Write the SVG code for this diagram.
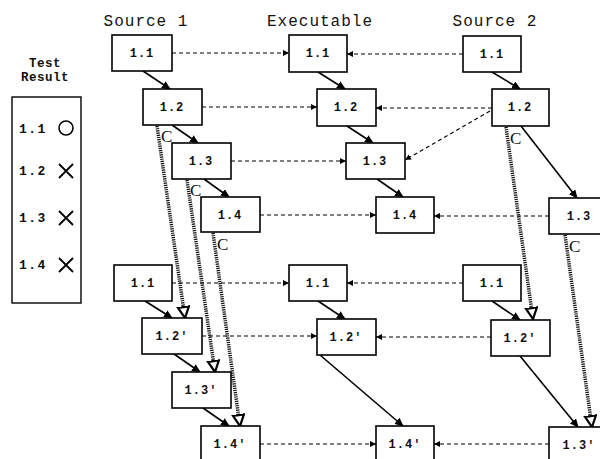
<svg xmlns="http://www.w3.org/2000/svg" width="600" height="459" viewBox="0 0 600 459">
<style>
.box rect{fill:#fff;stroke:#000;stroke-width:1.6}
.lbl{font-family:"Liberation Mono",monospace;font-weight:bold;font-size:12px;letter-spacing:1px;text-anchor:middle;fill:#111}
.hdr{font-family:"Liberation Mono",monospace;font-size:16px;letter-spacing:1px;text-anchor:middle;fill:#111}
.leg{font-family:"Liberation Mono",monospace;font-weight:bold;font-size:13px;letter-spacing:1.5px;fill:#111}
.tr{font-family:"Liberation Mono",monospace;font-weight:bold;font-size:12.5px;letter-spacing:0.5px;text-anchor:middle;fill:#111}
.solid{stroke:#000;stroke-width:1.6;fill:none;marker-end:url(#ah)}
.dash{stroke:#000;stroke-width:1.1;stroke-dasharray:4 3;fill:none;marker-end:url(#ad)}
.dot{stroke:#111;stroke-width:3.5;stroke-dasharray:1.2 1;fill:none;marker-end:url(#ao)}
.c{font-family:"Liberation Serif",serif;font-size:17px;fill:#111}
</style>
<defs>
<marker id="ah" markerWidth="9" markerHeight="8" refX="8" refY="4" orient="auto" markerUnits="userSpaceOnUse"><path d="M0,0 L9,4 L0,8 Z" fill="#000"/></marker>
<marker id="ad" markerWidth="6" markerHeight="6" refX="6" refY="3" orient="auto" markerUnits="userSpaceOnUse"><path d="M0,0 L6,3 L0,6 Z" fill="#000"/></marker>
<marker id="ao" markerWidth="14" markerHeight="14" refX="12" refY="7" orient="auto" markerUnits="userSpaceOnUse"><path d="M1,1.5 L12,7 L1,12.5 Z" fill="#fff" stroke="#000" stroke-width="2.2"/></marker>
</defs>

<text class="hdr" x="146" y="26">Source 1</text>
<text class="hdr" x="320" y="26">Executable</text>
<text class="hdr" x="495" y="26">Source 2</text>

<g id="legend">
<text class="tr" x="45" y="67">Test</text>
<text class="tr" x="45" y="81">Result</text>
<rect x="12" y="97" width="69" height="206" fill="#fff" stroke="#000" stroke-width="1.4"/>
<text class="leg" x="19" y="133">1.1</text>
<circle cx="66" cy="128" r="7" fill="none" stroke="#000" stroke-width="1.6"/>
<text class="leg" x="19" y="175">1.2</text>
<path d="M59,164 L73,178 M73,164 L59,178" stroke="#000" stroke-width="1.8"/>
<text class="leg" x="19" y="222">1.3</text>
<path d="M59,211 L73,225 M73,211 L59,225" stroke="#000" stroke-width="1.8"/>
<text class="leg" x="19" y="269">1.4</text>
<path d="M59,258 L73,272 M73,258 L59,272" stroke="#000" stroke-width="1.8"/>
</g>

<g id="connectors">
<line class="solid" x1="143" y1="71" x2="170" y2="89"/>
<line class="solid" x1="172" y1="125" x2="198" y2="143"/>
<line class="solid" x1="204" y1="179" x2="229" y2="197"/>
<line class="solid" x1="145" y1="301" x2="172" y2="318"/>
<line class="solid" x1="174" y1="354" x2="200" y2="372"/>
<line class="solid" x1="203" y1="408" x2="229" y2="426"/>
<line class="solid" x1="318" y1="72" x2="345" y2="89"/>
<line class="solid" x1="347" y1="126" x2="373" y2="143"/>
<line class="solid" x1="377" y1="179" x2="403" y2="197"/>
<line class="solid" x1="318" y1="301" x2="345" y2="319"/>
<line class="solid" x1="320" y1="355" x2="403" y2="426"/>
<line class="solid" x1="492" y1="72" x2="520" y2="89"/>
<line class="solid" x1="521" y1="126" x2="577" y2="198"/>
<line class="solid" x1="492" y1="301" x2="520" y2="320"/>
<line class="solid" x1="520" y1="356" x2="578" y2="427"/>
<line class="dash" x1="172" y1="53" x2="289" y2="53"/>
<line class="dash" x1="463" y1="54" x2="347" y2="54"/>
<line class="dash" x1="202" y1="107" x2="317" y2="107"/>
<line class="dash" x1="492" y1="108" x2="376" y2="108"/>
<line class="dash" x1="490" y1="111" x2="405" y2="160"/>
<line class="dash" x1="231" y1="161" x2="346" y2="161"/>
<line class="dash" x1="260" y1="215" x2="376" y2="215"/>
<line class="dash" x1="549" y1="216" x2="434" y2="216"/>
<line class="dash" x1="172" y1="283" x2="289" y2="283"/>
<line class="dash" x1="463" y1="283" x2="347" y2="283"/>
<line class="dash" x1="202" y1="336" x2="317" y2="336"/>
<line class="dash" x1="491" y1="337" x2="376" y2="337"/>
<line class="dash" x1="260" y1="444" x2="376" y2="444"/>
<line class="dash" x1="549" y1="444" x2="434" y2="444"/>
<line class="dot" x1="157" y1="126" x2="185" y2="318"/>
<line class="dot" x1="187" y1="180" x2="215" y2="372"/>
<line class="dot" x1="213" y1="233" x2="240" y2="426"/>
<line class="dot" x1="506" y1="127" x2="533" y2="319"/>
<line class="dot" x1="565" y1="235" x2="592" y2="427"/>
<text class="c" x="161" y="142">C</text>
<text class="c" x="190" y="196">C</text>
<text class="c" x="217" y="250">C</text>
<text class="c" x="510" y="144">C</text>
<text class="c" x="569" y="252">C</text>
</g>

<g id="s1_11" class="box"><rect x="112" y="35" width="60" height="36"/><text class="lbl" x="142" y="57">1.1</text></g>
<g id="s1_12" class="box"><rect x="143" y="89" width="59" height="36"/><text class="lbl" x="172" y="111">1.2</text></g>
<g id="s1_13" class="box"><rect x="172" y="143" width="59" height="36"/><text class="lbl" x="201" y="165">1.3</text></g>
<g id="s1_14" class="box"><rect x="201" y="197" width="59" height="35"/><text class="lbl" x="230" y="219">1.4</text></g>
<g id="s1_11b" class="box"><rect x="114" y="265" width="58" height="36"/><text class="lbl" x="143" y="287">1.1</text></g>
<g id="s1_12p" class="box"><rect x="142" y="318" width="60" height="36"/><text class="lbl" x="172" y="340">1.2′</text></g>
<g id="s1_13p" class="box"><rect x="172" y="372" width="59" height="36"/><text class="lbl" x="201" y="394">1.3′</text></g>
<g id="s1_14p" class="box"><rect x="201" y="426" width="59" height="40"/><text class="lbl" x="230" y="448">1.4′</text></g>

<g id="ex_11" class="box"><rect x="289" y="35" width="58" height="37"/><text class="lbl" x="318" y="57">1.1</text></g>
<g id="ex_12" class="box"><rect x="317" y="89" width="59" height="37"/><text class="lbl" x="346" y="111">1.2</text></g>
<g id="ex_13" class="box"><rect x="346" y="143" width="59" height="36"/><text class="lbl" x="375" y="165">1.3</text></g>
<g id="ex_14" class="box"><rect x="376" y="197" width="58" height="36"/><text class="lbl" x="405" y="219">1.4</text></g>
<g id="ex_11b" class="box"><rect x="289" y="265" width="58" height="36"/><text class="lbl" x="318" y="287">1.1</text></g>
<g id="ex_12p" class="box"><rect x="317" y="319" width="59" height="36"/><text class="lbl" x="346" y="341">1.2′</text></g>
<g id="ex_14p" class="box"><rect x="376" y="426" width="58" height="40"/><text class="lbl" x="405" y="448">1.4′</text></g>

<g id="s2_11" class="box"><rect x="463" y="36" width="58" height="36"/><text class="lbl" x="492" y="58">1.1</text></g>
<g id="s2_12" class="box"><rect x="492" y="89" width="57" height="37"/><text class="lbl" x="520" y="111">1.2</text></g>
<g id="s2_13" class="box"><rect x="549" y="198" width="60" height="36"/><text class="lbl" x="579" y="220">1.3</text></g>
<g id="s2_11b" class="box"><rect x="463" y="265" width="58" height="36"/><text class="lbl" x="492" y="287">1.1</text></g>
<g id="s2_12p" class="box"><rect x="491" y="320" width="59" height="36"/><text class="lbl" x="520" y="342">1.2′</text></g>
<g id="s2_13p" class="box"><rect x="549" y="427" width="60" height="40"/><text class="lbl" x="579" y="449">1.3′</text></g>
</svg>
